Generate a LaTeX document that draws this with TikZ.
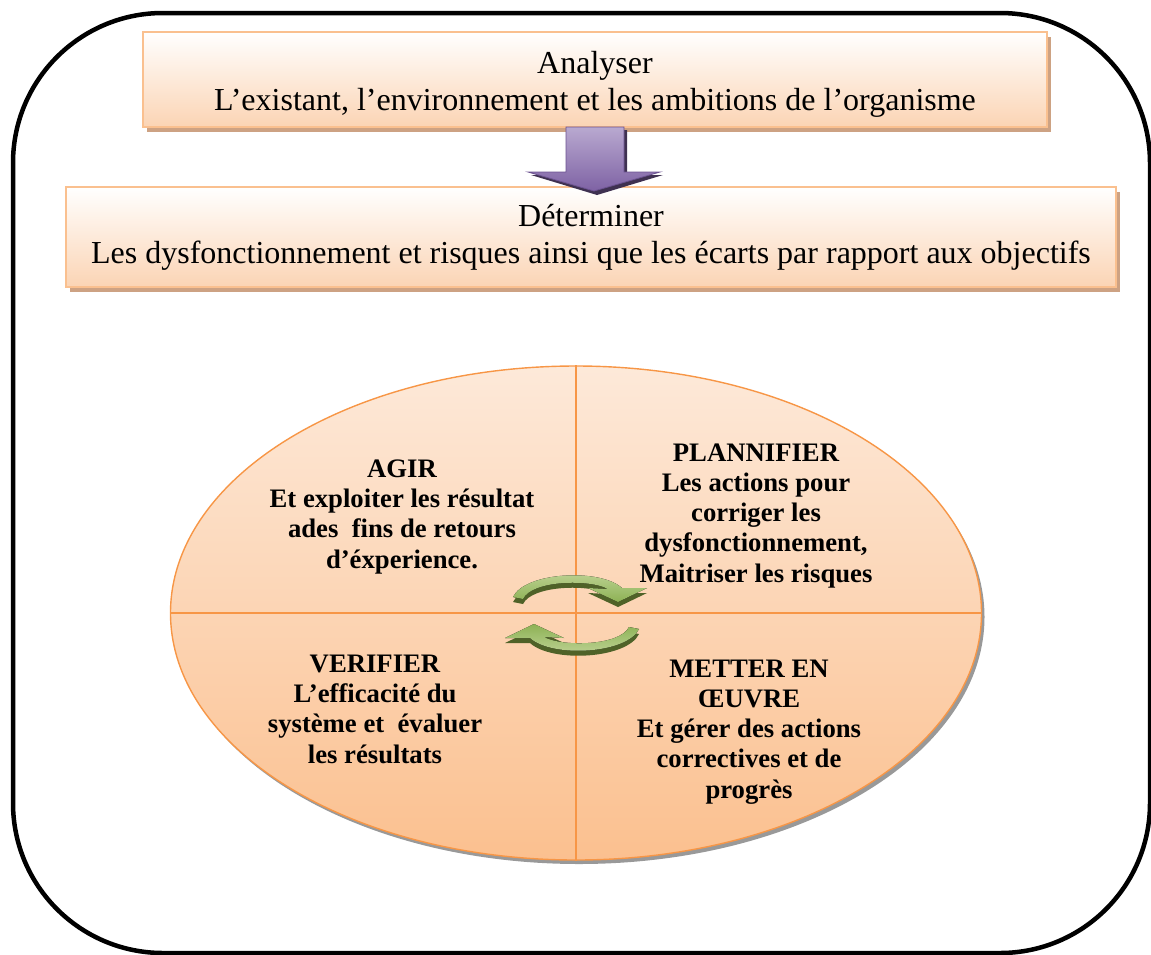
\documentclass[tikz,border=0pt]{standalone}
\usepackage{fontspec}
\setmainfont{Liberation Serif}
\usetikzlibrary{shapes.geometric,shadows}
\definecolor{boxline}{HTML}{FAC08F}
\definecolor{boxbot}{HTML}{FBD4B4}
\definecolor{boxshadow}{HTML}{CDA283}
\definecolor{ellline}{HTML}{F79646}
\definecolor{elltop}{HTML}{FDE9D9}
\definecolor{ellbot}{HTML}{FBC08F}
\definecolor{purlight}{HTML}{B9A9D0}
\definecolor{purdark}{HTML}{7E62A4}
\definecolor{purline}{HTML}{6B5290}
\definecolor{purshadow}{HTML}{3F3151}
\definecolor{grlight}{HTML}{C3D69B}
\definecolor{grmid}{HTML}{8DB255}
\definecolor{grdark}{HTML}{4F6228}
\newcommand\grarrowpath{(-63,-16) .. controls (-51,-41) and (24,-45) .. (46,-25) -- (71,-25) -- (42,-11) -- (12,-25) -- (32,-24) .. controls (14,-34) and (-44,-33) .. (-53,-14) -- cycle}
\begin{document}
\begin{tikzpicture}[x=1pt,y=-1pt,
  topbox/.style={rectangle, draw=boxline, line width=1.8pt, top color=white, bottom color=boxbot,
    general shadow={fill=boxshadow, shadow xshift=4pt, shadow yshift=-5pt},
    inner sep=0pt, align=center, font=\fontsize{32}{37}\selectfont},
  quadtext/.style={align=center, inner sep=0pt, font=\bfseries\fontsize{26.7}{30.2}\selectfont},
  quadline/.style={draw=ellline, line width=1.4pt},
]
\useasboundingbox (0,0) rectangle (1151,954);
% outer frame
\draw[line width=4.5pt, rounded corners=150pt] (13,13) rectangle (1150,953);
% boxes
\node[topbox, minimum width=904pt, minimum height=95pt] (b1) at (595,79.5)
  {\rule{0pt}{31pt}Analyser\\L’existant, l’environnement et les ambitions de l’organisme};
\node[topbox, minimum width=1050pt, minimum height=100pt] (b2) at (591,237)
  {Déterminer\\Les dysfonctionnement et risques ainsi que les écarts par rapport aux objectifs};
% purple block arrow
\fill[purshadow] (569,130) -- (627,130) -- (627,175) -- (663,175) -- (597,195) -- (531,175) -- (569,175) -- cycle;
\draw[purline, line width=0.8pt, top color=purlight, bottom color=purdark]
  (566,127) -- (624,127) -- (624,172) -- (660,172) -- (594,191) -- (528,172) -- (566,172) -- cycle;
% ellipse
\node[ellipse, draw=ellline, line width=1.4pt, top color=elltop, bottom color=ellbot,
  minimum width=811pt, minimum height=494pt, inner sep=0pt,
  general shadow={fill=black!40, shadow xshift=3pt, shadow yshift=-4pt}] (cyc) at (576,613) {};
\draw[quadline] (cyc.north) -- (cyc.south);
\draw[quadline] (cyc.west) -- (cyc.east);
% green cycle arrows
\begin{scope}[shift={(576,618)}]
  \fill[grdark] \grarrowpath;
\end{scope}
\begin{scope}[shift={(576,613)}]
  \fill[top color=grlight, bottom color=grmid] \grarrowpath;
\end{scope}
\begin{scope}[shift={(576,618)}, rotate=180]
  \fill[grdark] \grarrowpath;
\end{scope}
\begin{scope}[shift={(576,613)}, rotate=180]
  \fill[top color=grmid, bottom color=grlight] \grarrowpath;
\end{scope}
% quadrant texts (anchor base = baseline of last line)
\node[quadtext, anchor=base] (agir) at (402,568)
  {AGIR\\Et exploiter les résultat\\ades\ \ fins de retours\\d’éxperience.};
\node[quadtext, anchor=base] (plan) at (756,582)
  {PLANNIFIER\\Les actions pour\\corriger les\\dysfonctionnement,\\Maitriser les risques};
\node[quadtext, anchor=base] (verif) at (375,763)
  {VERIFIER\\L’efficacité du\\système et\ \ évaluer\\les résultats};
\node[quadtext, anchor=base] (mettre) at (749,798)
  {METTER EN\\ŒUVRE\\Et gérer des actions\\correctives et de\\progrès};
\end{tikzpicture}
\end{document}
